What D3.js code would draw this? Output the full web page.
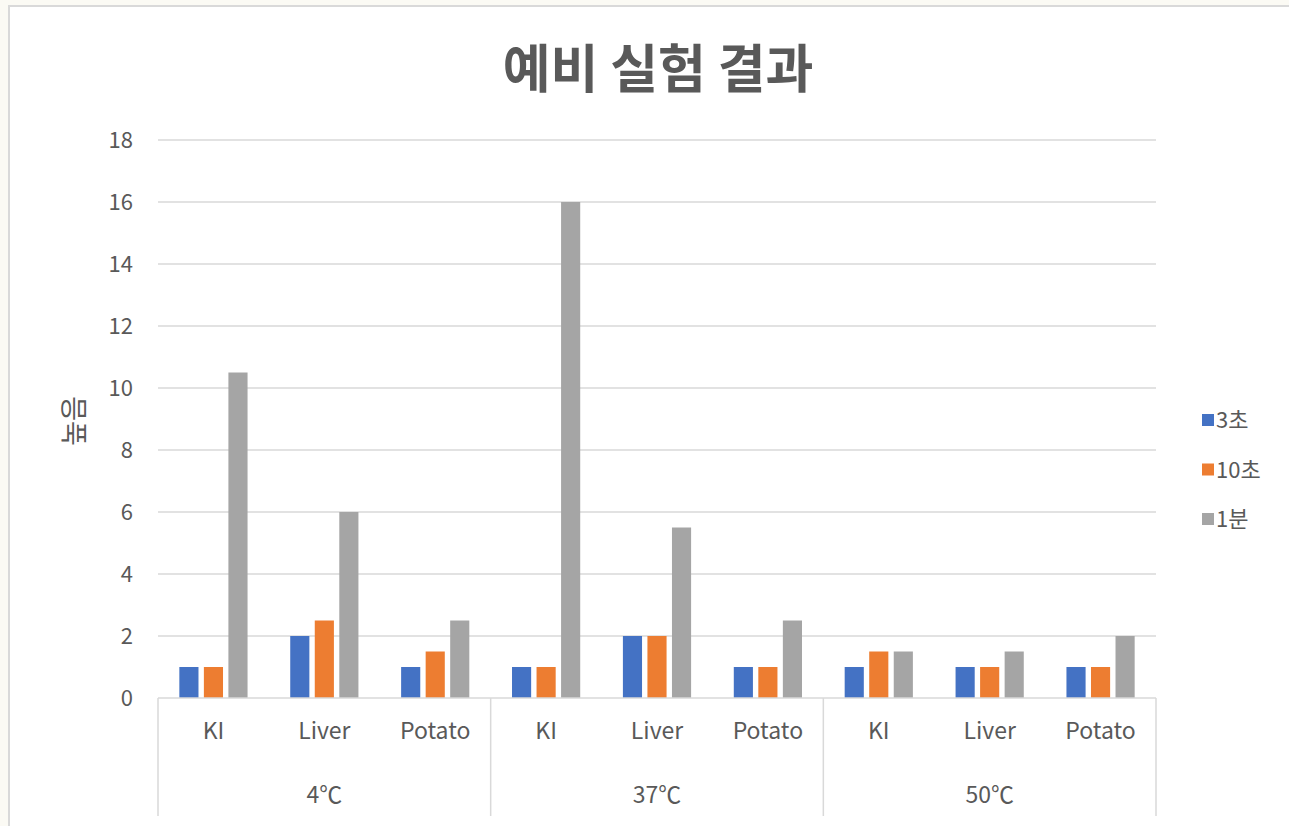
<!DOCTYPE html>
<html>
<head>
<meta charset="utf-8">
<script src="https://cdn.jsdelivr.net/npm/d3@7"></script>
<style>
  html, body { margin: 0; padding: 0; background: #fbfaf4; }
  svg { display: block; }
  text { font-family: "Noto Sans CJK KR", "Noto Sans", sans-serif; fill: #595959; }
</style>
</head>
<body>
<svg id="chart" width="1289" height="826"></svg>
<script>
// Temperature groups and samples within each group
const groups = ["4℃", "37℃", "50℃"];
const samples = ["KI", "Liver", "Potato"];
// Series (legend order)
const seriesNames = ["3초", "10초", "1분"];
const seriesColors = ["#4472C4", "#ED7D31", "#A5A5A5"];
// Values per series, ordered group by group, sample by sample
const values3s  = [1, 2, 1,   1, 2, 1,   1, 1, 1];
const values10s = [1, 2.5, 1.5, 1, 2, 1, 1.5, 1, 1];
const values1m  = [10.5, 6, 2.5, 16, 5.5, 2.5, 1.5, 1.5, 2];
const yTicks = [0, 2, 4, 6, 8, 10, 12, 14, 16, 18];

const seriesValues = [values3s, values10s, values1m];
const categories = [];
groups.forEach(g => samples.forEach(s => categories.push({ group: g, sample: s, key: g + "|" + s })));

const svg = d3.select("#chart");

// Chart panel
svg.append("rect").attr("x", 9).attr("y", 6).attr("width", 1290).attr("height", 830)
  .attr("fill", "#ffffff").attr("stroke", "#d9d9d9").attr("stroke-width", 2);

const plot = { left: 158, right: 1156, top: 140, bottom: 698 };

const x0 = d3.scaleBand().domain(categories.map(c => c.key))
  .range([plot.left, plot.right]).paddingInner(0).paddingOuter(0);
const x1 = d3.scaleBand().domain(seriesNames).range([0, x0.bandwidth()])
  .paddingInner(0.22).paddingOuter(0.87);
const y = d3.scaleLinear().domain([0, 18]).range([plot.bottom, plot.top]);

// Gridlines
svg.append("g").selectAll("line").data(yTicks.filter(t => t > 0)).join("line")
  .attr("x1", plot.left).attr("x2", plot.right)
  .attr("y1", d => y(d)).attr("y2", d => y(d))
  .attr("stroke", "#d9d9d9").attr("stroke-width", 1.3);

// Y axis labels
const yAxis = d3.axisLeft(y).tickValues(yTicks).tickSize(0).tickPadding(0);
const yg = svg.append("g").attr("transform", `translate(${plot.left - 25},0)`).call(yAxis);
yg.select(".domain").remove();
yg.selectAll("text").attr("font-size", 22).attr("fill", "#595959")
  .style("font-family", "'Noto Sans CJK KR', sans-serif");

// Bars
const barG = svg.append("g");
seriesNames.forEach((name, si) => {
  barG.append("g").selectAll("rect").data(categories).join("rect")
    .attr("x", (d) => x0(d.key) + x1(name))
    .attr("width", x1.bandwidth())
    .attr("y", (d, i) => y(seriesValues[si][i]))
    .attr("height", (d, i) => y(0) - y(seriesValues[si][i]))
    .attr("fill", seriesColors[si]);
});

// Category axis: baseline, group separators, labels
const axisBottom = 816;
svg.append("line").attr("x1", plot.left).attr("x2", plot.right)
  .attr("y1", y(0)).attr("y2", y(0)).attr("stroke", "#d9d9d9").attr("stroke-width", 1.5);

const groupBounds = [];
groups.forEach((g, gi) => {
  const first = x0(g + "|" + samples[0]);
  const last = x0(g + "|" + samples[samples.length - 1]) + x0.bandwidth();
  groupBounds.push({ g, first, last });
});
const sepXs = [plot.left].concat(groupBounds.map(b => b.last));
svg.append("g").selectAll("line").data(sepXs).join("line")
  .attr("x1", d => d).attr("x2", d => d)
  .attr("y1", y(0)).attr("y2", axisBottom)
  .attr("stroke", "#d9d9d9").attr("stroke-width", 1.5);

svg.append("g").selectAll("text").data(categories).join("text")
  .attr("x", d => x0(d.key) + x0.bandwidth() / 2)
  .attr("y", 739)
  .attr("text-anchor", "middle").attr("font-size", 23)
  .text(d => d.sample);

svg.append("g").selectAll("text").data(groupBounds).join("text")
  .attr("x", d => (d.first + d.last) / 2)
  .attr("y", 803)
  .attr("text-anchor", "middle").attr("font-size", 23)
  .text(d => d.g);

// Title
svg.append("text").attr("x", 658).attr("y", 88)
  .attr("text-anchor", "middle").attr("font-size", 52).attr("font-weight", "bold")
  .text("예비 실험 결과");

// Y axis title
svg.append("text")
  .attr("transform", "translate(84,421) rotate(-90)")
  .attr("text-anchor", "middle").attr("font-size", 27)
  .text("높음");

// Legend
const legend = svg.append("g").selectAll("g").data(seriesNames).join("g")
  .attr("transform", (d, i) => `translate(1202,${420 + i * 49.5})`);
legend.append("rect").attr("x", 0).attr("y", -6).attr("width", 12).attr("height", 12)
  .attr("fill", (d, i) => seriesColors[i]);
legend.append("text").attr("x", 14).attr("y", 8).attr("font-size", 22).text(d => d);
</script>
</body>
</html>
